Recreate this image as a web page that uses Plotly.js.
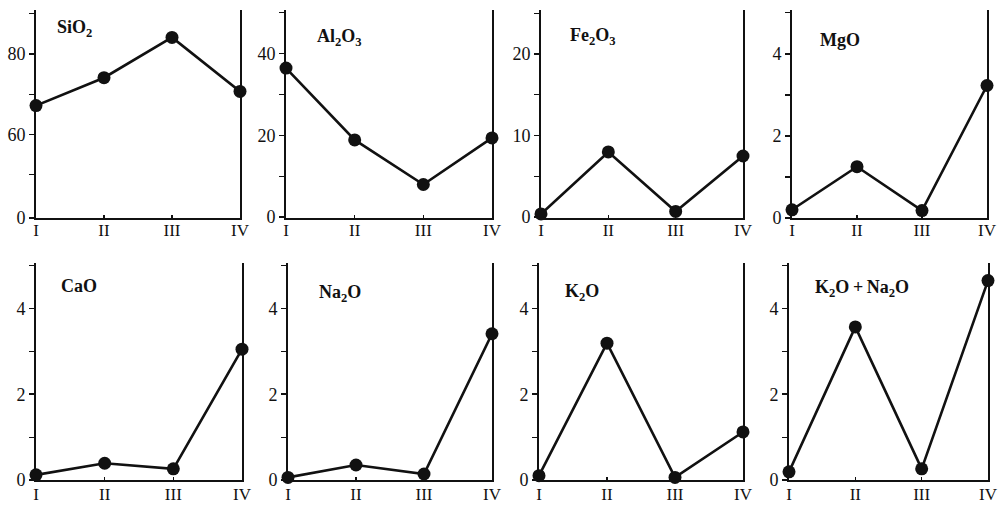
<!DOCTYPE html>
<html>
<head>
<meta charset="utf-8">
<script src="https://cdn.plot.ly/plotly-3.0.1.min.js"></script>
<style>html,body{margin:0;padding:0;background:#fff;}#chart{width:1000px;height:505px;}</style>
</head>
<body>
<div id="chart"></div>
<script>
// Categories (sample groups)
const categories = ['I', 'II', 'III', 'IV'];

// Series values (wt %)
const sio2 = [67.2, 74.1, 84.1, 70.7];
const al2o3 = [36.5, 18.9, 8.0, 19.4];
const fe2o3 = [0.4, 8.0, 0.7, 7.5];
const mgo = [0.2, 1.25, 0.18, 3.23];
const cao = [0.12, 0.39, 0.26, 3.05];
const na2o = [0.06, 0.35, 0.14, 3.41];
const k2o = [0.1, 3.19, 0.06, 1.12];
const k2oNa2o = [0.19, 3.57, 0.26, 4.65];

// Panel titles
const titles = ['SiO<sub>2</sub>', 'Al<sub>2</sub>O<sub>3</sub>', 'Fe<sub>2</sub>O<sub>3</sub>', 'MgO',
                'CaO', 'Na<sub>2</sub>O', 'K<sub>2</sub>O', 'K<sub>2</sub>O&#8201;+&#8201;Na<sub>2</sub>O'];

// Y tick values and labels (SiO2 axis is broken: bottom labelled 0)
const yTickVals = [[39.3, 60, 80], [0, 20, 40], [0, 10, 20], [0, 2, 4], [0, 2, 4], [0, 2, 4], [0, 2, 4], [0, 2, 4]];
const yTickText = [['0', '60', '80'], ['0', '20', '40'], ['0', '10', '20'], ['0', '2', '4'], ['0', '2', '4'], ['0', '2', '4'], ['0', '2', '4'], ['0', '2', '4']];
const yMinorVals = [[50, 70, 90], [10, 30, 50], [5, 15, 25], [1, 3, 5], [1, 3, 5], [1, 3, 5], [1, 3, 5], [1, 3, 5]];
const yRanges = [[39.3, 90.9], [-0.2, 50.7], [-0.1, 25.4], [0, 5.07], [0, 5.06], [0, 5.06], [0, 5.06], [0, 5.06]];

const series = [sio2, al2o3, fe2o3, mgo, cao, na2o, k2o, k2oNa2o];

// Layout geometry (pixels)
const W = 1000, H = 505;
const xPix = [[36, 240], [286, 492], [541, 743], [792, 987], [36, 242], [288, 492], [539, 743], [789, 988]];
const yPix = [[10, 218], [10, 218], [10, 218], [10, 218], [263, 480], [263, 480], [263, 480], [263, 480]];
const xStandoff = [-4, -4, -4, -4, -2, -2, -2, -2];
const titlePos = [[55, 28], [315, 38], [568, 37], [818, 40], [59, 286], [317, 293], [563, 292], [813, 288]];

const FONT = 'Liberation Serif, Times New Roman, serif';
const traces = [];
const layout = {
  width: W, height: H,
  margin: {l: 0, r: 0, t: 0, b: 0},
  paper_bgcolor: '#fff', plot_bgcolor: '#fff',
  showlegend: false,
  font: {family: FONT, color: '#111'},
  annotations: []
};

for (let i = 0; i < 8; i++) {
  const n = i + 1;
  const xa = n === 1 ? 'xaxis' : 'xaxis' + n;
  const ya = n === 1 ? 'yaxis' : 'yaxis' + n;
  const xr = n === 1 ? 'x' : 'x' + n;
  const yr = n === 1 ? 'y' : 'y' + n;
  traces.push({
    type: 'scatter', mode: 'lines+markers',
    x: categories, y: series[i], xaxis: xr, yaxis: yr,
    line: {color: '#111', width: 2.6},
    marker: {color: '#111', size: 13},
    cliponaxis: false, hoverinfo: 'skip'
  });
  layout[xa] = {
    type: 'category', domain: [xPix[i][0] / W, xPix[i][1] / W], range: [0, 3],
    anchor: yr, showgrid: false, zeroline: false,
    showline: true, linecolor: '#111', linewidth: 2,
    ticks: 'inside', ticklen: 3, tickwidth: 1.5, tickcolor: '#111',
    tickfont: {family: FONT, size: 17, color: '#111'},
    ticklabelstandoff: xStandoff[i], fixedrange: true
  };
  layout[ya] = {
    domain: [1 - yPix[i][1] / H, 1 - yPix[i][0] / H], range: yRanges[i],
    anchor: xr, showgrid: false, zeroline: false,
    showline: true, mirror: true, linecolor: '#111', linewidth: 2,
    tickmode: 'array', tickvals: yTickVals[i], ticktext: yTickText[i],
    ticks: 'outside', ticklen: 5, tickwidth: 1.5, tickcolor: '#111',
    tickfont: {family: FONT, size: 18, color: '#111'},
    minor: {tickmode: 'array', tickvals: yMinorVals[i], ticks: 'outside', ticklen: 5, tickwidth: 1.2, tickcolor: '#111', showgrid: false},
    fixedrange: true
  };
  layout.annotations.push({
    xref: 'paper', yref: 'paper',
    x: titlePos[i][0] / W, y: 1 - titlePos[i][1] / H,
    xanchor: 'left', yanchor: 'middle', showarrow: false,
    text: titles[i],
    font: {family: FONT, size: 18, color: '#111', weight: 'bold'}
  });
}

Plotly.newPlot('chart', traces, layout, {staticPlot: true, displayModeBar: false});
</script>
</body>
</html>
